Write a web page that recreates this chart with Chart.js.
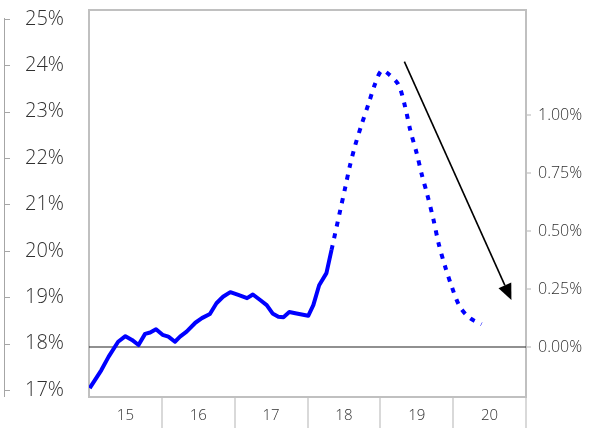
<!DOCTYPE html>
<html>
<head>
<meta charset="utf-8">
<script src="https://cdn.jsdelivr.net/npm/chart.js@4/dist/chart.umd.min.js"></script>
<style>
  html, body { margin: 0; padding: 0; background: #fff; }
</style>
</head>
<body>
<canvas id="chart" width="600" height="440"></canvas>
<script>
// category labels along the bottom
const years = ['15', '16', '17', '18', '19', '20'];

// left and right axis ticks
const leftTicks = [17, 18, 19, 20, 21, 22, 23, 24, 25];
const rightTicks = [0, 0.25, 0.5, 0.75, 1.0];

// solid (actual) series: x = year, y = %
const actualX = [15.01, 15.17, 15.27, 15.40, 15.50, 15.59, 15.68, 15.77, 15.84, 15.92,
                 16.01, 16.09, 16.18, 16.25, 16.34, 16.46, 16.55, 16.66, 16.75, 16.84,
                 16.94, 17.05, 17.17, 17.25, 17.35, 17.44, 17.52, 17.60, 17.67, 17.75,
                 17.85, 18.01, 18.08, 18.16, 18.26, 18.33];
const actualY = [17.04, 17.43, 17.72, 18.04, 18.16, 18.08, 17.97, 18.21, 18.24, 18.31,
                 18.19, 18.15, 18.04, 18.15, 18.26, 18.45, 18.55, 18.64, 18.87, 19.01,
                 19.11, 19.05, 18.98, 19.06, 18.94, 18.83, 18.65, 18.58, 18.57, 18.68,
                 18.65, 18.60, 18.83, 19.26, 19.52, 20.02];

// dotted (projected) series
const projX = [18.33, 18.45, 18.52, 18.58, 18.65, 18.74, 18.84, 18.93, 19.02, 19.13,
               19.25, 19.34, 19.41, 19.50, 19.57, 19.64, 19.73, 19.80, 19.89, 19.98,
               20.09, 20.23, 20.39];
const projY = [20.02, 20.88, 21.38, 21.82, 22.25, 22.71, 23.18, 23.61, 23.89, 23.79,
               23.58, 23.11, 22.61, 22.10, 21.64, 21.24, 20.67, 20.16, 19.66, 19.23,
               18.80, 18.55, 18.42];

// arrow annotation (start, tip) in data units
const arrowStart = [19.33, 24.08];
const arrowTip = [20.80, 18.94];

const toPoints = (xs, ys) => xs.map((x, i) => ({ x: x, y: ys[i] }));

const textColor = '#303030';
const fontFamily = '"Open Sans", sans-serif';

// keep the plot box where the reference has it
const noPad = s => { s.paddingTop = 0; s.paddingBottom = 0; s.paddingLeft = 0; s.paddingRight = 0; };

const framePlugin = {
    id: 'frame',
    beforeDatasetsDraw(chart) {
        const { ctx, chartArea: a } = chart;
        ctx.save();
        ctx.strokeStyle = '#c0c0c0';
        ctx.lineWidth = 2;
        ctx.strokeRect(a.left, a.top, a.right - a.left, a.bottom - a.top);
        ctx.restore();
    },
    afterDatasetsDraw(chart) {
        const { ctx } = chart;
        const xs = chart.scales.xData;
        const ys = chart.scales.y;
        const x0 = xs.getPixelForValue(arrowStart[0]);
        const y0 = ys.getPixelForValue(arrowStart[1]);
        const x1 = xs.getPixelForValue(arrowTip[0]);
        const y1 = ys.getPixelForValue(arrowTip[1]);
        const ang = Math.atan2(y1 - y0, x1 - x0);
        const headLen = 16, headW = 7;
        const bx = x1 - headLen * Math.cos(ang);
        const by = y1 - headLen * Math.sin(ang);
        ctx.save();
        ctx.strokeStyle = '#000';
        ctx.fillStyle = '#000';
        ctx.lineWidth = 1.6;
        ctx.beginPath();
        ctx.moveTo(x0, y0);
        ctx.lineTo(bx, by);
        ctx.stroke();
        ctx.beginPath();
        ctx.moveTo(x1, y1);
        ctx.lineTo(bx + headW * Math.sin(ang), by - headW * Math.cos(ang));
        ctx.lineTo(bx - headW * Math.sin(ang), by + headW * Math.cos(ang));
        ctx.closePath();
        ctx.fill();
        ctx.restore();
    },
    afterDraw(chart) {
        // left axis line sits away from the plot, ticks pointing right
        const { ctx, chartArea: a } = chart;
        const ys = chart.scales.y;
        ctx.save();
        ctx.strokeStyle = '#a6a6a6';
        ctx.lineWidth = 1;
        ctx.beginPath();
        ctx.moveTo(4.5, ys.getPixelForValue(25) - 1);
        ctx.lineTo(4.5, a.bottom);
        ctx.stroke();
        leftTicks.forEach(v => {
            const py = Math.round(ys.getPixelForValue(v)) + 0.5;
            ctx.beginPath();
            ctx.moveTo(4, py);
            ctx.lineTo(10, py);
            ctx.stroke();
        });
        ctx.restore();
    }
};

new Chart(document.getElementById('chart'), {
    type: 'line',
    data: {
        datasets: [
            {
                data: toPoints(actualX, actualY),
                xAxisID: 'xData', yAxisID: 'y',
                borderColor: '#0000ff', borderWidth: 4,
                pointRadius: 0, tension: 0, borderJoinStyle: 'round'
            },
            {
                data: toPoints(projX, projY),
                xAxisID: 'xData', yAxisID: 'y',
                borderColor: '#0000ff', borderWidth: 4, borderDash: [5, 7],
                pointRadius: 0, tension: 0.3
            },
            {
                data: [{ x: 15, y: 0 }, { x: 21, y: 0 }],
                xAxisID: 'xData', yAxisID: 'y2',
                borderColor: '#222', borderWidth: 1.2,
                pointRadius: 0
            }
        ]
    },
    options: {
        responsive: false,
        animation: false,
        layout: { padding: { left: 25, top: 10, right: 0, bottom: 0 } },
        plugins: { legend: { display: false }, tooltip: { enabled: false } },
        scales: {
            x: {
                type: 'category',
                labels: years,
                position: 'bottom',
                offset: true,
                grid: {
                    offset: true,
                    drawOnChartArea: false,
                    tickLength: 31,
                    lineWidth: 2,
                    color: c => c.index === 0 ? 'rgba(0,0,0,0)' : '#d9d9d9'
                },
                border: { display: false },
                ticks: { padding: -21, color: textColor, font: { family: fontFamily, size: 15, weight: 300 } },
                afterFit: s => { s.height = 43; noPad(s); }
            },
            xData: { type: 'linear', min: 15, max: 21, display: false },
            y: {
                position: 'left',
                min: 16.849, max: 25.194,
                afterBuildTicks: s => { s.ticks = leftTicks.map(v => ({ value: v })); },
                grid: { display: false },
                border: { display: false },
                ticks: {
                    crossAlign: 'far', padding: 0,
                    color: textColor, font: { family: fontFamily, size: 20, weight: 300 },
                    callback: v => v + '%'
                },
                afterFit: s => { s.width = 64; noPad(s); }
            },
            y2: {
                position: 'right',
                min: -0.2159, max: 1.455,
                afterBuildTicks: s => { s.ticks = rightTicks.map(v => ({ value: v })); },
                grid: { drawOnChartArea: false, tickLength: 5, color: '#d9d9d9', lineWidth: 2 },
                border: { display: false },
                ticks: {
                    padding: 7,
                    color: textColor, font: { family: fontFamily, size: 16, weight: 300 },
                    callback: v => v.toFixed(2) + '%'
                },
                afterFit: s => { s.width = 74; noPad(s); }
            }
        }
    },
    plugins: [framePlugin]
});
</script>
</body>
</html>
